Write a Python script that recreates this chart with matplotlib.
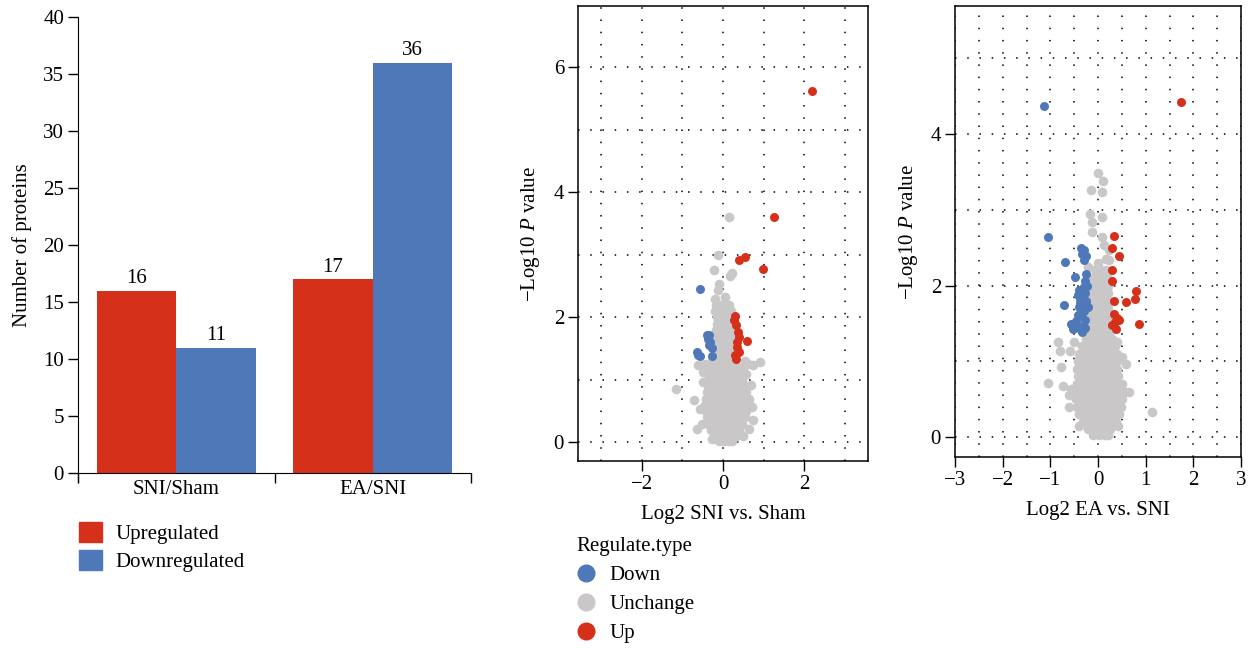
import numpy as np
import matplotlib
matplotlib.use("Agg")
import matplotlib.pyplot as plt
from matplotlib.patches import Patch
from matplotlib.lines import Line2D
from matplotlib.ticker import MultipleLocator, FixedLocator, NullFormatter

plt.rcParams['font.family'] = ['Liberation Serif', 'DejaVu Serif']
plt.rcParams['mathtext.fontset'] = 'custom'
plt.rcParams['mathtext.rm'] = 'Liberation Serif'
plt.rcParams['mathtext.it'] = 'Liberation Serif:italic'

RED = '#D5301A'
BLUE = '#4F78B8'
GRAY = '#C9C7C7'
FS = 15

# ---- bar chart data
groups = ['SNI/Sham', 'EA/SNI']
upregulated = [16, 17]
downregulated = [11, 36]

# ---- volcano: SNI vs Sham  (log2 fc, -log10 p)
sni_up = [(2.2, 5.62), (1.27, 3.6), (0.40, 2.91), (0.54, 2.97), (0.99, 2.78),
          (0.30, 2.02), (0.28, 1.95), (0.31, 1.87), (0.36, 1.76), (0.40, 1.69),
          (0.60, 1.62), (0.35, 1.60), (0.34, 1.53), (0.40, 1.45), (0.30, 1.40),
          (0.32, 1.34)]
sni_down = [(-0.57, 2.46), (-0.40, 1.71), (-0.34, 1.71), (-0.37, 1.66), (-0.31, 1.60),
            (-0.34, 1.55), (-0.28, 1.51), (-0.63, 1.45), (-0.62, 1.40), (-0.58, 1.38),
            (-0.28, 1.38)]
sni_gray_rows = [
    (0.02, [-0.1, 0.02, 0.14, 0.22]),
    (0.1, [-0.22, -0.08, 0.05, 0.18, 0.32]),
    (0.2, [-0.3, -0.16, -0.02, 0.12, 0.26, 0.4]),
    (0.3, [-0.36, -0.22, -0.08, 0.06, 0.2, 0.34, 0.48]),
    (0.4, [-0.4, -0.26, -0.12, 0.02, 0.16, 0.3, 0.44, 0.55]),
    (0.5, [-0.42, -0.28, -0.14, 0.0, 0.14, 0.28, 0.42, 0.58]),
    (0.6, [-0.44, -0.3, -0.16, -0.02, 0.12, 0.26, 0.4, 0.54, 0.66]),
    (0.7, [-0.42, -0.28, -0.14, 0.0, 0.14, 0.28, 0.42, 0.56, 0.64]),
    (0.8, [-0.4, -0.26, -0.12, 0.02, 0.16, 0.3, 0.44, 0.58]),
    (0.9, [-0.38, -0.24, -0.1, 0.04, 0.18, 0.32, 0.46, 0.56]),
    (1.0, [-0.36, -0.22, -0.08, 0.06, 0.2, 0.34, 0.48]),
    (1.1, [-0.34, -0.2, -0.06, 0.08, 0.22, 0.36, 0.5]),
    (1.2, [-0.3, -0.16, -0.02, 0.12, 0.26, 0.4, 0.5]),
    (1.3, [-0.26, -0.12, 0.02, 0.16, 0.28]),
    (1.4, [-0.22, -0.08, 0.06, 0.2, 0.28]),
    (1.5, [-0.2, -0.06, 0.08, 0.22]),
    (1.6, [-0.2, -0.06, 0.08, 0.22]),
    (1.7, [-0.18, -0.04, 0.1, 0.22]),
    (1.8, [-0.18, -0.04, 0.1, 0.2]),
    (1.9, [-0.16, -0.02, 0.12, 0.2]),
    (2.0, [-0.16, -0.02, 0.12]),
    (2.1, [-0.2, -0.06, 0.08, 0.2]),
    (2.2, [-0.18, -0.04, 0.1]),
]
sni_gray_extra = [(0.15, 3.6), (-0.12, 2.99), (-0.22, 2.76), (0.21, 2.71), (0.17, 2.66),
                  (-0.1, 2.53), (-0.12, 2.43), (0.15, 2.19), (-0.2, 2.3), (0.05, 2.32),
                  (0.92, 1.29), (0.62, 1.26), (0.74, 1.23), (0.58, 1.10), (0.68, 0.91),
                  (0.73, 0.35), (0.63, 0.22), (-1.17, 0.85), (-0.71, 0.67), (-0.57, 0.54),
                  (-0.65, 0.22), (-0.28, 0.06), (-0.49, 0.96), (-0.5, 1.13), (-0.61, 1.23),
                  (-0.44, 1.26), (0.55, 1.3), (0.6, 0.6), (-0.52, 0.3), (0.5, 0.1),
                  (0.71, 0.56)]

# ---- volcano: EA vs SNI
ea_up = [(1.74, 4.42), (0.34, 2.66), (0.29, 2.50), (0.44, 2.39), (0.29, 2.20),
         (0.30, 2.06), (0.79, 1.93), (0.77, 1.82), (0.59, 1.78), (0.34, 1.80),
         (0.33, 1.62), (0.40, 1.57), (0.44, 1.54), (0.35, 1.52), (0.30, 1.48),
         (0.38, 1.43), (0.87, 1.49)]
ea_down = [(-1.14, 4.37), (-1.05, 2.64), (-0.36, 2.50), (-0.29, 2.47), (-0.33, 2.42),
           (-0.25, 2.39), (-0.29, 2.34), (-0.69, 2.31), (-0.26, 2.15), (-0.48, 2.11),
           (-0.27, 2.06), (-0.24, 2.00), (-0.29, 1.98), (-0.34, 1.96), (-0.40, 1.94),
           (-0.27, 1.90), (-0.43, 1.87), (-0.38, 1.83), (-0.25, 1.80), (-0.37, 1.78),
           (-0.71, 1.74), (-0.40, 1.72), (-0.31, 1.73), (-0.22, 1.72), (-0.30, 1.66),
           (-0.43, 1.61), (-0.36, 1.61), (-0.28, 1.55), (-0.47, 1.53), (-0.56, 1.49),
           (-0.31, 1.47), (-0.44, 1.45), (-0.27, 1.44), (-0.52, 1.42), (-0.36, 1.41),
           (-0.33, 1.39)]
ea_gray_rows = [
    (0.02, [-0.1, 0.02, 0.14, 0.22]),
    (0.1, [-0.22, -0.1, 0.02, 0.14, 0.26]),
    (0.2, [-0.32, -0.2, -0.08, 0.04, 0.16, 0.28, 0.38]),
    (0.3, [-0.4, -0.28, -0.16, -0.04, 0.08, 0.2, 0.32, 0.44]),
    (0.4, [-0.44, -0.32, -0.2, -0.08, 0.04, 0.16, 0.28, 0.4, 0.48]),
    (0.5, [-0.46, -0.34, -0.22, -0.1, 0.02, 0.14, 0.26, 0.38, 0.5]),
    (0.6, [-0.46, -0.34, -0.22, -0.1, 0.02, 0.14, 0.26, 0.38, 0.5, 0.56]),
    (0.7, [-0.44, -0.32, -0.2, -0.08, 0.04, 0.16, 0.28, 0.4, 0.5]),
    (0.8, [-0.42, -0.3, -0.18, -0.06, 0.06, 0.18, 0.3, 0.42]),
    (0.9, [-0.44, -0.32, -0.2, -0.08, 0.04, 0.16, 0.28, 0.4]),
    (1.0, [-0.42, -0.3, -0.18, -0.06, 0.06, 0.18, 0.3, 0.4]),
    (1.1, [-0.4, -0.28, -0.16, -0.04, 0.08, 0.2, 0.32, 0.4]),
    (1.2, [-0.34, -0.22, -0.1, 0.02, 0.14, 0.26, 0.36]),
    (1.3, [-0.26, -0.14, -0.02, 0.1, 0.22, 0.3]),
    (1.4, [-0.2, -0.08, 0.04, 0.16, 0.26]),
    (1.5, [-0.18, -0.06, 0.06, 0.18, 0.26]),
    (1.6, [-0.18, -0.06, 0.06, 0.18, 0.24]),
    (1.7, [-0.16, -0.04, 0.08, 0.2]),
    (1.8, [-0.16, -0.04, 0.08, 0.2]),
    (1.9, [-0.14, -0.02, 0.1, 0.2]),
    (2.0, [-0.12, 0.0, 0.12, 0.2]),
    (2.1, [-0.1, 0.02, 0.14, 0.2]),
    (2.2, [-0.06, 0.06, 0.16]),
]
ea_gray_extra = [(-0.01, 3.49), (0.10, 3.38), (-0.14, 3.26), (0.09, 3.23), (-0.17, 2.94),
                 (0.08, 2.90), (-0.12, 2.84), (-0.13, 2.70), (0.09, 2.64), (0.13, 2.53),
                 (0.23, 2.47), (0.17, 2.35), (0.23, 2.34), (0.0, 2.3), (-0.2, 2.25),
                 (-0.84, 1.25), (-0.80, 1.14), (-0.50, 1.25), (-0.59, 1.14), (-0.77, 0.92),
                 (-1.05, 0.71), (-0.73, 0.67), (-0.61, 0.40), (-0.40, 0.14), (-0.6, 0.56),
                 (-0.57, 0.64), (0.51, 1.06), (0.58, 0.96), (0.65, 0.59), (0.43, 0.15),
                 (1.14, 0.33), (0.4, 1.25)]


def gray_points(rows, extra):
    pts = [(x, y) for y, xs in rows for x in xs] + list(extra)
    return np.array(pts)


fig = plt.figure(figsize=(12.57, 6.48), dpi=100)
W, H = 1257, 648


def box(l, r, t, b):
    return [l / W, 1 - b / H, (r - l) / W, (b - t) / H]


# ---------------- bar chart
ax1 = fig.add_axes(box(78, 471, 17, 473))
xpos = np.arange(len(groups))
bw = 0.405
ax1.bar(xpos - bw / 2, upregulated, bw, color=RED, linewidth=0)
ax1.bar(xpos + bw / 2, downregulated, bw, color=BLUE, linewidth=0)
for i in range(len(groups)):
    ax1.text(xpos[i] - bw / 2, upregulated[i] + 0.2, str(upregulated[i]),
             ha='center', va='bottom', fontsize=FS)
    ax1.text(xpos[i] + bw / 2, downregulated[i] + 0.2, str(downregulated[i]),
             ha='center', va='bottom', fontsize=FS)
ax1.set_xlim(-0.5, 1.5)
ax1.set_ylim(0, 40)
ax1.yaxis.set_major_locator(MultipleLocator(5))
ax1.xaxis.set_major_locator(FixedLocator([-0.5, 0.5, 1.5]))
ax1.xaxis.set_major_formatter(NullFormatter())
ax1.xaxis.set_minor_locator(FixedLocator(xpos))
ax1.set_xticklabels(groups, minor=True)
ax1.tick_params(axis='x', which='minor', length=0, pad=5, labelsize=FS)
ax1.tick_params(axis='x', which='major', length=7, width=1)
ax1.tick_params(axis='y', length=7, width=1, labelsize=FS, pad=3)
ax1.spines['top'].set_visible(False)
ax1.spines['right'].set_visible(False)
ax1.spines['left'].set_bounds(-0.8, 40)
ax1.set_ylabel('Number of proteins', fontsize=FS, labelpad=8)

fig.legend(handles=[Patch(color=RED, label='Upregulated'),
                    Patch(color=BLUE, label='Downregulated')],
           loc='upper left', bbox_to_anchor=(79 / W, 1 - 522 / H),
           frameon=False, fontsize=FS, borderpad=0, borderaxespad=0,
           handlelength=1.1, handleheight=1.1, handletextpad=0.65, labelspacing=0.28)


# ---------------- volcano plots
def volcano(ax, gray, down, up, xlabel):
    gray = np.asarray(gray)
    down = np.asarray(down)
    up = np.asarray(up)
    ax.scatter(gray[:, 0], gray[:, 1], s=48, color=GRAY, linewidths=0, zorder=2)
    ax.scatter(down[:, 0], down[:, 1], s=42, color=BLUE, linewidths=0, zorder=3)
    ax.scatter(up[:, 0], up[:, 1], s=42, color=RED, linewidths=0, zorder=3)
    ax.grid(True, which='both', color='black', linewidth=1.1,
            linestyle=(0, (1, 7)), zorder=1)
    ax.set_axisbelow(True)
    ax.tick_params(axis='both', which='major', length=7, width=1, labelsize=FS, pad=3)
    ax.tick_params(axis='both', which='minor', length=0)
    ax.set_xlabel(xlabel, fontsize=FS, labelpad=8)
    ax.set_ylabel('\u2212Log10 $P$ value', fontsize=FS, labelpad=8)
    for sp in ax.spines.values():
        sp.set_linewidth(1.1)


ax2 = fig.add_axes(box(578, 868, 6, 461))
volcano(ax2, gray_points(sni_gray_rows, sni_gray_extra), sni_down, sni_up,
        'Log2 SNI vs. Sham')
ax2.set_xlim(-3.58, 3.58)
ax2.set_ylim(-0.30, 6.98)
ax2.xaxis.set_major_locator(MultipleLocator(2))
ax2.xaxis.set_minor_locator(MultipleLocator(1))
ax2.yaxis.set_major_locator(MultipleLocator(2))
ax2.yaxis.set_minor_locator(MultipleLocator(1))

ax3 = fig.add_axes(box(955, 1241, 6, 457))
volcano(ax3, gray_points(ea_gray_rows, ea_gray_extra), ea_down, ea_up,
        'Log2 EA vs. SNI')
ax3.set_xlim(-3, 3)
ax3.set_ylim(-0.264, 5.69)
ax3.xaxis.set_major_locator(MultipleLocator(1))
ax3.xaxis.set_minor_locator(MultipleLocator(0.5))
ax3.yaxis.set_major_locator(MultipleLocator(2))
ax3.yaxis.set_minor_locator(MultipleLocator(1))

handles = [Line2D([], [], linestyle='none', marker='o', markersize=13,
                  markerfacecolor=c, markeredgewidth=0, label=l)
           for c, l in [(BLUE, 'Down'), (GRAY, 'Unchange'), (RED, 'Up')]]
fig.legend(handles=handles, title='Regulate.type', title_fontsize=FS,
           loc='upper left', bbox_to_anchor=(576 / W, 1 - 537 / H),
           frameon=False, fontsize=FS, borderpad=0, borderaxespad=0,
           handlelength=1.0, handletextpad=0.6, labelspacing=0.45,
           alignment='left')

fig.savefig('out.png', dpi=100)
